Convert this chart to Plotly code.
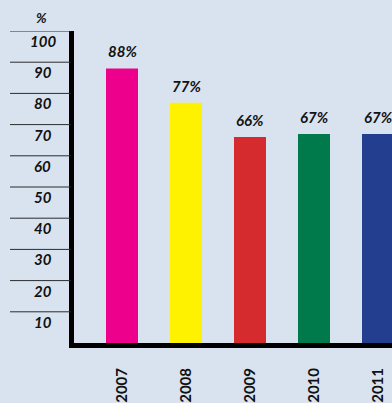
import plotly.graph_objects as go

years = ["2007", "2008", "2009", "2010", "2011"]
values = [88, 77, 66, 67, 67]
bar_colors = ["#EC008C", "#FFF200", "#D62B2E", "#007A4B", "#233E8E"]
y_ticks = [10, 20, 30, 40, 50, 60, 70, 80, 90, 100]
y_tick_labels = [str(v) for v in y_ticks]

W, H = 392, 403
ML, MT, MB, MR = 74, 31, 53, 0
plot_w = W - ML - MR
BG = "#D9E3F0"
FONT = "Lato, DejaVu Sans, sans-serif"

fig = go.Figure(
    go.Bar(
        x=years,
        y=values,
        marker=dict(color=bar_colors, line=dict(width=0)),
        width=0.5,
        hoverinfo="skip",
    )
)

shapes = []
annotations = []

# short reference rules to the left of the value axis
x_left = (10 - ML) / plot_w
for v, lab in zip(y_ticks, y_tick_labels):
    shapes.append(dict(type="line", xref="paper", yref="y",
                       x0=x_left, x1=-3 / plot_w, y0=v, y1=v,
                       line=dict(color="#2a2a2a", width=1)))
    annotations.append(dict(xref="paper", yref="y", x=(42.5 - ML) / plot_w,
                            y=v, yshift=-10, xanchor="center", yanchor="middle",
                            text=f"<b><i>{lab}</i></b>", showarrow=False,
                            font=dict(family=FONT, size=15, color="#111111")))

# value labels above bars (category index positions)
for i, v in enumerate(values):
    annotations.append(dict(xref="x", yref="y", x=i, y=v, yshift=6,
                            xanchor="center", yanchor="bottom",
                            text=f"<b><i>{v}%</i></b>", showarrow=False,
                            font=dict(family=FONT, size=15, color="#111111")))

# unit label
annotations.append(dict(xref="paper", yref="paper", x=(41.5 - ML) / plot_w,
                        y=1 + (MT - 17.5) / (H - MT - MB),
                        xanchor="center", yanchor="middle",
                        text="<b><i>%</i></b>", showarrow=False,
                        font=dict(family=FONT, size=14, color="#111111")))

fig.update_layout(
    width=W, height=H,
    margin=dict(l=ML, r=MR, t=MT, b=MB, pad=0),
    paper_bgcolor=BG, plot_bgcolor=BG,
    showlegend=False,
    shapes=shapes,
    annotations=annotations,
    xaxis=dict(
        type="category",
        range=[-0.75, -0.75 + plot_w / 64],
        showgrid=False, zeroline=False,
        showline=True, linecolor="#000000", linewidth=5,
        ticks="", tickangle=-90,
        ticklabelstandoff=14,
        tickfont=dict(family=FONT, size=15, color="#111111", weight="bold"),
    ),
    yaxis=dict(
        range=[0, 100],
        showgrid=False, zeroline=False,
        showline=True, linecolor="#000000", linewidth=5,
        showticklabels=False, ticks="",
    ),
)

fig.write_html("out.html")
